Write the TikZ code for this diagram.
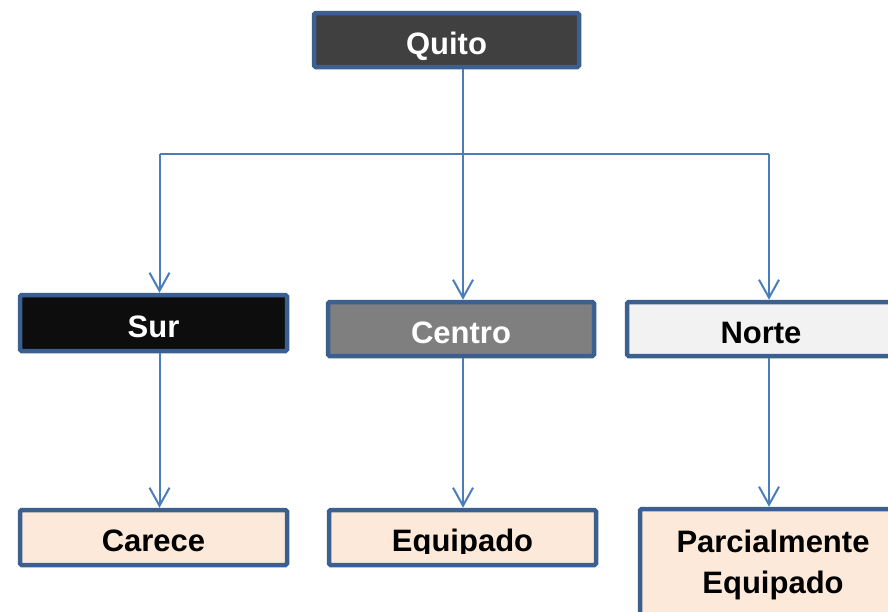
\documentclass[tikz,border=0pt]{standalone}
\usepackage{fontspec}
\setmainfont{Liberation Sans}
\usetikzlibrary{arrows.meta}
\definecolor{bord}{HTML}{3B5F8F}
\definecolor{connc}{HTML}{4A7EBB}
\definecolor{fquito}{HTML}{404040}
\definecolor{fsur}{HTML}{0D0D0D}
\definecolor{fcentro}{HTML}{7F7F7F}
\definecolor{fnorte}{HTML}{F2F2F2}
\definecolor{fpeach}{HTML}{FDE9D9}
\begin{document}
\begin{tikzpicture}[x=1pt,y=-1pt,
  lbl/.style={inner sep=0pt, font=\fontsize{31}{41}\selectfont\bfseries, text height=28pt, text depth=0pt},
  box/.style={lbl, draw=bord, line width=4.5pt, rounded corners=1.5pt},
  link/.style={draw=connc, line width=2pt},
  arr/.style={link, -{Straight Barb[length=18pt,width=20pt,line width=2pt]}}]
\useasboundingbox (0,0) rectangle (888,611);
\clip (0,0) rectangle (888,611);

\node[box, fill=fquito, text=white, minimum width=265pt, minimum height=54pt] (Quito) at (446.5,40) {Quito};
\node[box, fill=fsur, text=white, minimum width=267pt, minimum height=56pt] (Sur) at (153.5,323) {Sur};
\node[box, fill=fcentro, text=white, minimum width=266pt, minimum height=54pt] (Centro) at (461,329) {Centro};
\node[box, fill=fnorte, text=black, minimum width=268pt, minimum height=54pt] (Norte) at (761,329) {Norte};
\node[box, fill=fpeach, minimum width=267pt, minimum height=55pt] (Carece) at (153.5,537.5) {Carece};
\node[box, fill=fpeach, minimum width=267pt, minimum height=55pt] (Equipado) at (462.5,537.5) {};
\begin{scope}
  \clip (329,500) rectangle (596,553);
  \node[lbl] (EquipadoText) at (Equipado) {Equipado};
\end{scope}
\node[box, fill=fpeach, align=center, minimum width=266pt, minimum height=112pt, text height=56pt, text depth=0pt] (Parcial) at (773,565) {Parcialmente\\Equipado};

\coordinate (bl) at (159.5,153.5);
\coordinate (bm) at (463,153.5);
\coordinate (br) at (769,153.5);

\draw[link] (Quito.south -| bm) -- (bm);
\draw[link] (bl) -- (br);
\draw[arr] (bl) -- (Sur.north -| bl);
\draw[arr] (bm) -- (Centro.north -| bm);
\draw[arr] (br) -- (Norte.north -| br);
\draw[arr] (Sur.south -| bl) -- (Carece.north -| bl);
\draw[arr] (Centro.south -| bm) -- (Equipado.north -| bm);
\draw[arr] (Norte.south -| br) -- (Parcial.north -| br);
\end{tikzpicture}
\end{document}
